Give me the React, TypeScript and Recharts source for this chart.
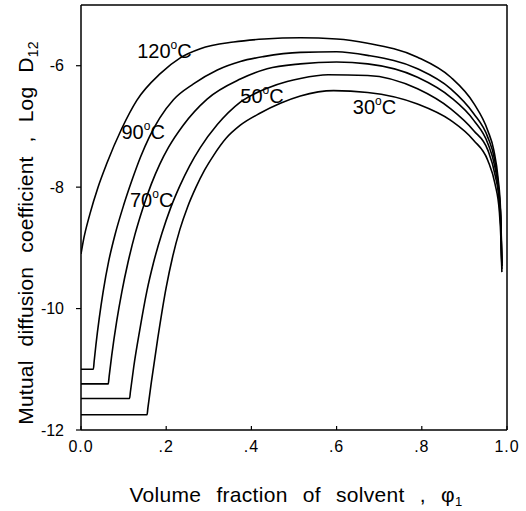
import { LineChart, Line, XAxis, YAxis, ReferenceLine, ReferenceDot } from 'recharts';

const FONT = '"Liberation Sans", Arial, Helvetica, sans-serif';

// volume fraction of solvent (phi1) and log D12 for each temperature
const phi120 = [0, 0.005, 0.021, 0.04, 0.06, 0.096, 0.131, 0.186, 0.233, 0.28, 0.358, 0.43, 0.515, 0.6, 0.673, 0.79, 0.868, 0.922, 0.955, 0.969, 0.979, 0.985, 0.988];
const logD120 = [-9.1, -8.9, -8.44, -8.0, -7.62, -7.03, -6.57, -6.13, -5.87, -5.72, -5.61, -5.56, -5.54, -5.56, -5.63, -5.86, -6.19, -6.62, -7.07, -7.39, -7.85, -8.4, -9.25];

const phi90 = [0, 0.029, 0.031, 0.035, 0.043, 0.052, 0.065, 0.08, 0.1, 0.12, 0.14, 0.16, 0.185, 0.217, 0.264, 0.32, 0.374, 0.428, 0.515, 0.6, 0.673, 0.79, 0.868, 0.922, 0.955, 0.971, 0.98, 0.985, 0.988];
const logD90 = [-11.0, -11.0, -10.86, -10.6, -10.15, -9.72, -9.22, -8.78, -8.3, -7.88, -7.5, -7.18, -6.86, -6.56, -6.3, -6.07, -5.93, -5.85, -5.78, -5.77, -5.83, -6.05, -6.38, -6.79, -7.18, -7.55, -8.0, -8.5, -9.3];

const phi70 = [0, 0.064, 0.066, 0.072, 0.084, 0.096, 0.11, 0.127, 0.145, 0.165, 0.185, 0.205, 0.24, 0.296, 0.374, 0.437, 0.515, 0.6, 0.673, 0.79, 0.868, 0.922, 0.955, 0.971, 0.981, 0.986, 0.988];
const logD70 = [-11.24, -11.24, -11.12, -10.78, -10.2, -9.72, -9.25, -8.77, -8.35, -7.95, -7.62, -7.35, -6.98, -6.55, -6.22, -6.05, -5.97, -5.94, -5.97, -6.19, -6.52, -6.9, -7.28, -7.65, -8.1, -8.6, -9.3];

const phi50 = [0, 0.114, 0.116, 0.124, 0.138, 0.155, 0.17, 0.19, 0.21, 0.232, 0.255, 0.28, 0.32, 0.374, 0.437, 0.484, 0.515, 0.58, 0.673, 0.79, 0.868, 0.922, 0.955, 0.972, 0.982, 0.986, 0.988];
const logD50 = [-11.48, -11.48, -11.37, -10.95, -10.35, -9.7, -9.25, -8.76, -8.35, -7.98, -7.65, -7.35, -6.97, -6.6, -6.37, -6.26, -6.21, -6.15, -6.16, -6.38, -6.71, -7.07, -7.39, -7.8, -8.25, -8.75, -9.35];

const phi30 = [0, 0.155, 0.157, 0.165, 0.18, 0.2, 0.215, 0.232, 0.25, 0.27, 0.29, 0.311, 0.34, 0.374, 0.421, 0.468, 0.515, 0.593, 0.673, 0.79, 0.868, 0.922, 0.955, 0.972, 0.982, 0.986, 0.988];
const logD30 = [-11.75, -11.75, -11.64, -11.22, -10.5, -9.65, -9.15, -8.7, -8.33, -8.0, -7.72, -7.48, -7.2, -6.98, -6.78, -6.62, -6.5, -6.41, -6.44, -6.63, -6.9, -7.23, -7.56, -7.95, -8.4, -8.9, -9.4];

const xTicks = [0, 0.2, 0.4, 0.6, 0.8, 1.0];
const yTicks = [-12, -10, -8, -6];

// curve labels: temperature, label anchor (phi, logD)
const labelTemps = ['120', '90', '70', '50', '30'];
const labelPhi = [0.132, 0.095, 0.115, 0.374, 0.638];
const labelLogD = [-5.88, -7.2, -8.33, -6.61, -6.79];

const zip = (xs: number[], ys: number[]) => xs.map((x, i) => ({ x, v: ys[i] }));

const series = [
  zip(phi120, logD120),
  zip(phi90, logD90),
  zip(phi70, logD70),
  zip(phi50, logD50),
  zip(phi30, logD30),
];

const fmtX = (v: number) => (v === 0 ? '0.0' : v === 1 ? '1.0' : '.' + Math.round(v * 10));

const XTick = ({ x, y, payload }: any) => (
  <g>
    <line x1={x} x2={x} y1={y - 10} y2={y - 14} stroke="#000" strokeWidth={1.2} />
    <text x={x} y={y} dy="0.75em" textAnchor="middle" fontSize={16} fontFamily={FONT} letterSpacing={1} fill="#000">
      {fmtX(payload.value)}
    </text>
  </g>
);

const TempLabel = (temp: string) => (props: any) => {
  const { viewBox } = props;
  const x = viewBox.x + viewBox.width / 2;
  const y = viewBox.y + viewBox.height / 2;
  return (
    <text x={x} y={y} fontSize={20} fontFamily={FONT} fill="#000">
      {temp}
      <tspan dy={-9} fontSize={12}>o</tspan>
      <tspan dy={9}>C</tspan>
    </text>
  );
};

const XTitle = () => (
  <text x={296} y={502} textAnchor="middle" fontSize={21} fontFamily={FONT} letterSpacing={0.3} wordSpacing={9} fill="#000">
    Volume fraction of solvent , φ<tspan dy={4} fontSize={13}>1</tspan>
  </text>
);

const YTitle = () => (
  <text transform="translate(33,233) rotate(-90)" textAnchor="middle" fontSize={21} fontFamily={FONT} letterSpacing={0.2} wordSpacing={8} fill="#000">
    Mutual diffusion coefficient , Log D<tspan dy={5} fontSize={14}>12</tspan>
  </text>
);

export default function App() {
  return (
    <div style={{ position: 'absolute', left: 0, top: 0, background: '#fff' }}>
      <LineChart width={526} height={511} margin={{ top: 5, right: 19, bottom: 0, left: 0 }}>
        <XAxis
          type="number"
          dataKey="x"
          domain={[0, 1]}
          ticks={xTicks}
          allowDataOverflow
          height={81}
          tickSize={0}
          tickMargin={10}
          tick={<XTick />}
          axisLine={{ stroke: '#000', strokeWidth: 1.5 }}
          label={<XTitle />}
        />
        <YAxis
          type="number"
          domain={[-12, -5]}
          ticks={yTicks}
          allowDataOverflow
          width={81}
          tickSize={5}
          tickMargin={12}
          tick={{ fill: '#000', fontSize: 16, fontFamily: FONT }}
          tickLine={{ stroke: '#000', strokeWidth: 1.2 }}
          axisLine={{ stroke: '#000', strokeWidth: 1.5 }}
          label={<YTitle />}
        />
        <ReferenceLine y={-5} stroke="#000" strokeWidth={1.5} />
        <ReferenceLine x={1} stroke="#000" strokeWidth={1.5} />
        {series.map((d, i) => (
          <Line
            key={i}
            data={d}
            dataKey="v"
            type="monotone"
            dot={false}
            stroke="#000"
            strokeWidth={1.6}
            isAnimationActive={false}
          />
        ))}
        {labelTemps.map((t, i) => (
          <ReferenceDot
            key={t}
            x={labelPhi[i]}
            y={labelLogD[i]}
            r={0}
            fill="none"
            stroke="none"
            label={TempLabel(t)}
          />
        ))}
      </LineChart>
    </div>
  );
}
